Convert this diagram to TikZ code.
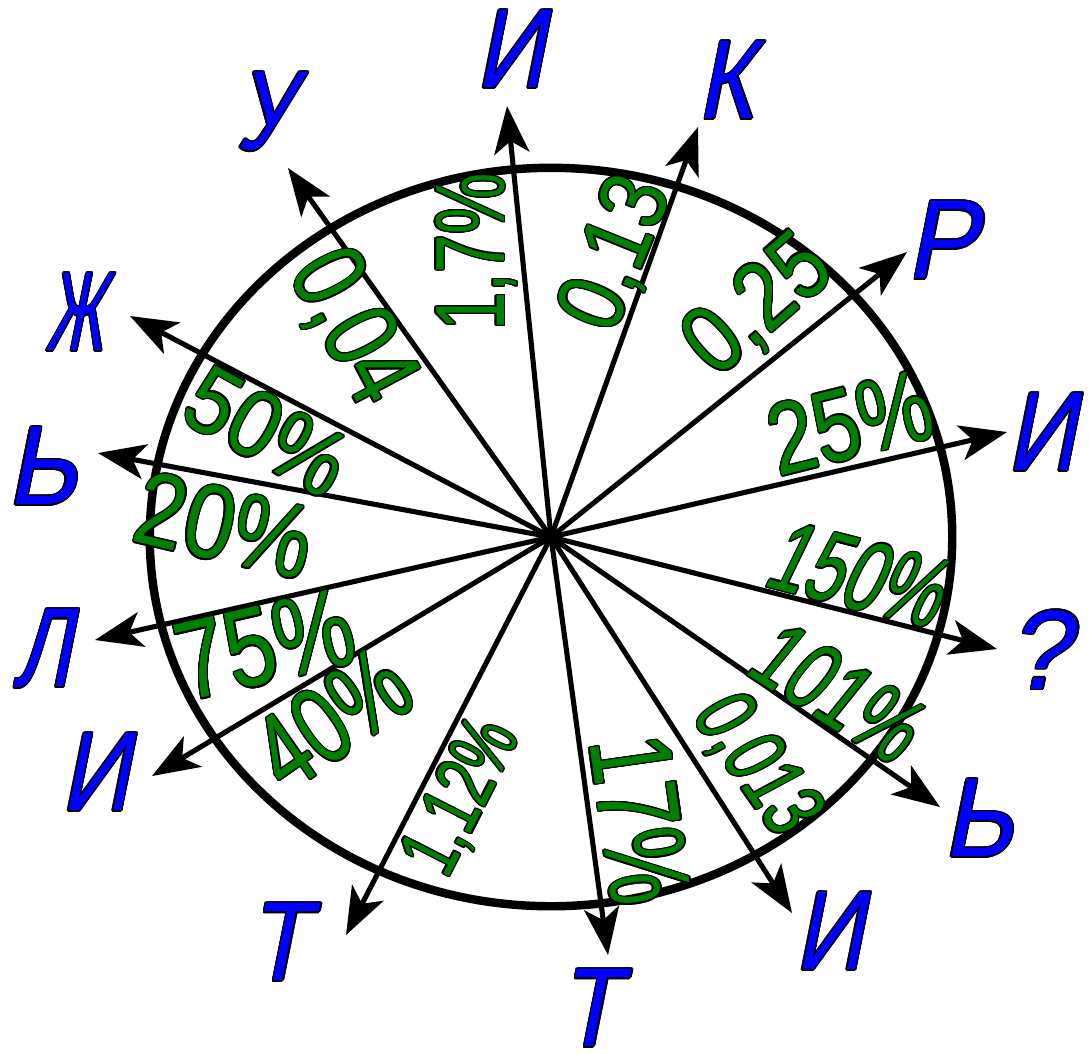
\documentclass[tikz,border=0pt]{standalone}
\usepackage{fontspec}
\setmainfont{Liberation Sans}
\usepackage[copies]{contour}
\contourlength{0.45pt}
\usetikzlibrary{arrows.meta}
\definecolor{tgreen}{RGB}{0,128,0}
\definecolor{tblue}{RGB}{0,0,255}
\newcommand\gf[1]{\fontsize{#1}{#1}\selectfont}
\tikzset{
  arr/.style={line width=1.45pt, -{Stealth[length=13.5pt,width=10pt,inset=3.5pt]}},
  num/.style={inner sep=0pt, text=tgreen, text depth=0pt, transform shape},
  lab/.style={inner sep=0pt, text=tblue, font=\gf{32}, text depth=0pt, transform shape, xslant=0.2},
}
\begin{document}
\begin{tikzpicture}[x=0.01cm, y=-0.01cm]
\useasboundingbox (0,0) rectangle (1089,1053);
\coordinate (c) at (551,537);
\draw[line width=2.4pt] (c) ellipse [x radius=4.01cm, y radius=3.69cm];
% arrow tips
\coordinate (t1) at (507,106);
\coordinate (t2) at (698,127);
\coordinate (t3) at (907,252);
\coordinate (t4) at (1007,432);
\coordinate (t5) at (997,649);
\coordinate (t6) at (940,807);
\coordinate (t7) at (792,913);
\coordinate (t8) at (608,955);
\coordinate (t9) at (346,935);
\coordinate (t10) at (152,776);
\coordinate (t11) at (95,640);
\coordinate (t12) at (98,453);
\coordinate (t13) at (130,316);
\coordinate (t14) at (288,168);
\foreach \i in {1,...,14} \draw[arr] (c) -- (t\i);
% blue letters
\node (l1) [lab, xscale=0.84] at (518,49) {\contour{black}{И}};
\node (l2) [lab, xscale=0.84] at (733,80) {\contour{black}{К}};
\node (l3) [lab, xscale=0.95] at (950,240) {\contour{black}{Р}};
\node (l4) [lab, xscale=0.84] at (1049,432) {\contour{black}{И}};
\node (l5) [lab, xscale=1.0] at (1047,650) {\contour{black}{?}};
\node (l6) [lab, xscale=0.95] at (986,818) {\contour{black}{Ь}};
\node (l7) [lab, xscale=0.84] at (837,931) {\contour{black}{И}};
\node (l8) [lab, xscale=0.86] at (597,1008) {\contour{black}{Т}};
\node (l9) [lab, xscale=0.86] at (286,942) {\contour{black}{Т}};
\node (l10) [lab, xscale=0.84] at (103,772) {\contour{black}{И}};
\node (l11) [lab, xscale=0.78] at (50,648) {\contour{black}{Л}};
\node (l12) [lab, xscale=0.95] at (50,466) {\contour{black}{Ь}};
\node (l13) [lab, xscale=0.55] at (82,312) {\contour{black}{Ж}};
\node (l14) [lab, xscale=0.79] at (272,111) {\contour{black}{У}};
% green numbers
\node (n1) [num, font=\gf{29}, rotate=14, xscale=0.81] at (850,422) {\contour{black}{25\%}};
\node (n2) [num, font=\gf{28.6}, rotate=-14.5, xslant=0.2, xscale=0.68] at (862,575) {\contour{black}{150\%}};
\node (n3) [num, font=\gf{27.5}, rotate=-32, xslant=0.12, xscale=0.72] at (840,693) {\contour{black}{101\%}};
\node (n4) [num, font=\gf{27.5}, rotate=41, xscale=0.85] at (755,302) {\contour{black}{0,25}};
\node (n5) [num, font=\gf{28}, rotate=90, xscale=0.70] at (470,252) {\contour{black}{1,7\%}};
\node (n6) [num, font=\gf{27}, rotate=68, xscale=0.84] at (612,252) {\contour{black}{0,13}};
\node (n7) [num, font=\gf{29.8}, rotate=-62, xscale=0.77] at (357,325) {\contour{black}{0,04}};
\node (n8) [num, font=\gf{24.6}, rotate=-55, xslant=0.12, xscale=0.70] at (761,763) {\contour{black}{0,013}};
\node (n9) [num, font=\gf{33}, rotate=-82, xscale=0.73] at (641,820) {\contour{black}{17\%}};
\node (n10) [num, font=\gf{23.5}, rotate=63, xscale=0.69] at (458,795) {\contour{black}{1,12\%}};
\node (n11) [num, font=\gf{31}, rotate=35, xscale=0.74] at (332,718) {\contour{black}{40\%}};
\node (n12) [num, font=\gf{31.8}, rotate=13, xscale=0.8] at (265,644) {\contour{black}{75\%}};
\node (n13) [num, font=\gf{29.8}, rotate=-13, xscale=0.85] at (225,525) {\contour{black}{20\%}};
\node (n14) [num, font=\gf{27}, rotate=-29, xscale=0.89] at (268,431) {\contour{black}{50\%}};
\end{tikzpicture}
\end{document}
